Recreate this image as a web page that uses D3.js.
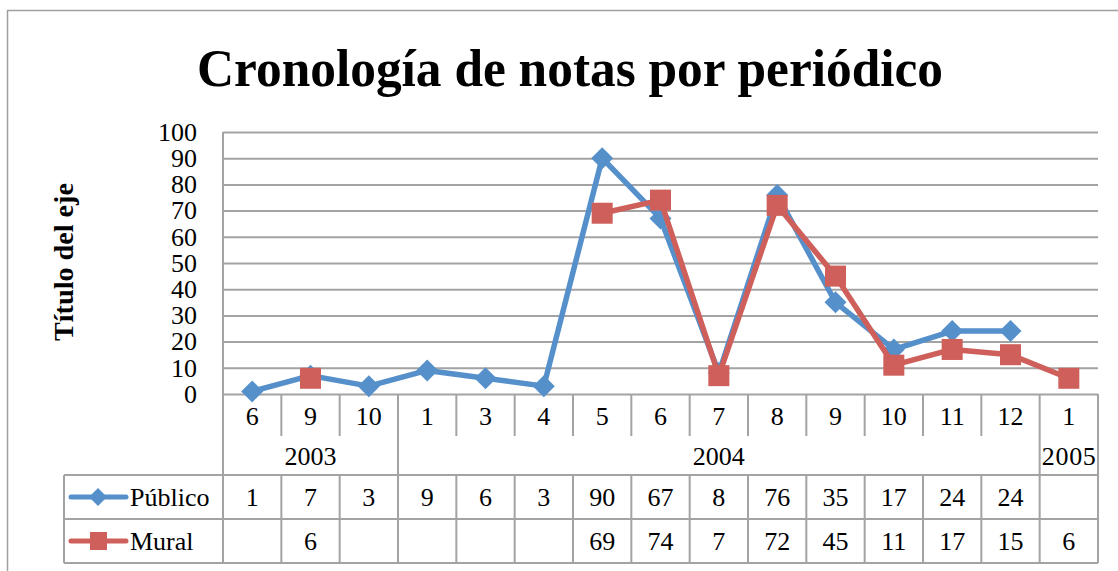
<!DOCTYPE html>
<html>
<head>
<meta charset="utf-8">
<script src="https://cdn.jsdelivr.net/npm/d3@7"></script>
<style>
  body { margin: 0; background: #fff; }
  svg { display: block; }
  text { font-family: "Liberation Serif", "Times New Roman", serif; fill: #000; }
</style>
</head>
<body>
<svg width="1118" height="571"></svg>
<script>
// data
var months = ["6", "9", "10", "1", "3", "4", "5", "6", "7", "8", "9", "10", "11", "12", "1"];
var years = ["2003", "2004", "2005"];
var yearSpans = [3, 11, 1];
var publico = [1, 7, 3, 9, 6, 3, 90, 67, 8, 76, 35, 17, 24, 24, null];
var mural = [null, 6, null, null, null, null, 69, 74, 7, 72, 45, 11, 17, 15, 6];
var yTicks = [0, 10, 20, 30, 40, 50, 60, 70, 80, 90, 100];

var series = [
    { name: "Público", values: publico, color: "#5690cb", marker: "diamond" },
    { name: "Mural", values: mural, color: "#cf5f5a", marker: "square" }
];

var gridColor = "#a3a3a3";
var fs = 26;
var plotL = 223, plotR = 1098, plotT = 132, plotB = 394;
var monthRow = 436, yearRow = 475, row1 = 519, row2 = 563, tableLeft = 64;

var svg = d3.select("svg");

// outer chart border
svg.append("rect")
    .attr("x", 7.5).attr("y", 10.5)
    .attr("width", 1300).attr("height", 700)
    .attr("fill", "none")
    .attr("stroke", "#a0a0a0")
    .attr("stroke-width", 1.5);

svg.append("text")
    .attr("x", 570).attr("y", 86)
    .attr("text-anchor", "middle")
    .attr("font-size", 53)
    .attr("font-weight", "bold")
    .attr("textLength", 746)
    .attr("lengthAdjust", "spacingAndGlyphs")
    .text("Cronología de notas por periódico");

svg.append("text")
    .attr("transform", "translate(73,262) rotate(-90)")
    .attr("text-anchor", "middle")
    .attr("font-size", 27)
    .attr("font-weight", "bold")
    .attr("textLength", 158)
    .attr("lengthAdjust", "spacingAndGlyphs")
    .text("Título del eje");

var x = d3.scaleBand().domain(d3.range(months.length)).range([plotL, plotR]);
var y = d3.scaleLinear().domain([0, 100]).range([plotB, plotT]);

// gridlines
svg.append("g")
    .attr("transform", "translate(" + plotL + ",0)")
    .call(d3.axisLeft(y).tickValues(yTicks).tickSize(-(plotR - plotL)).tickFormat(""))
    .call(function (g) {
        g.select(".domain").remove();
        g.selectAll("line").attr("stroke", gridColor).attr("stroke-width", 2);
    });

// y tick labels
svg.append("g")
    .attr("transform", "translate(" + plotL + ",0)")
    .call(d3.axisLeft(y).tickValues(yTicks).tickSize(0).tickPadding(26))
    .call(function (g) {
        g.select(".domain").remove();
        g.selectAll("text")
            .attr("font-size", fs)
            .attr("font-family", "Liberation Serif")
            .attr("fill", "#000");
    });

// data table / category axis
var table = svg.append("g").attr("stroke", gridColor).attr("stroke-width", 2);
table.append("line").attr("x1", plotL).attr("x2", plotL).attr("y1", plotT).attr("y2", row2);
table.append("line").attr("x1", plotR).attr("x2", plotR).attr("y1", plotB).attr("y2", row2);
table.append("line").attr("x1", tableLeft).attr("x2", tableLeft).attr("y1", yearRow).attr("y2", row2);
[yearRow, row1, row2].forEach(function (yy) {
    table.append("line").attr("x1", tableLeft).attr("x2", plotR).attr("y1", yy).attr("y2", yy);
});

var yearBounds = [];
var acc = 0;
yearSpans.forEach(function (s) { acc += s; yearBounds.push(acc); });

d3.range(1, months.length).forEach(function (i) {
    var xx = x(i);
    var isYear = yearBounds.indexOf(i) >= 0;
    table.append("line")
        .attr("x1", xx).attr("x2", xx)
        .attr("y1", plotB).attr("y2", isYear ? yearRow : monthRow);
    table.append("line")
        .attr("x1", xx).attr("x2", xx)
        .attr("y1", yearRow).attr("y2", row2);
});

svg.append("g").selectAll("text")
    .data(months)
    .enter().append("text")
    .attr("x", function (d, i) { return x(i) + x.bandwidth() / 2; })
    .attr("y", 425)
    .attr("text-anchor", "middle")
    .attr("font-size", fs)
    .text(function (d) { return d; });

var start = 0;
years.forEach(function (yr, k) {
    var x0 = x(start), x1 = x(start + yearSpans[k] - 1) + x.bandwidth();
    svg.append("text")
        .attr("x", (x0 + x1) / 2)
        .attr("y", 465)
        .attr("text-anchor", "middle")
        .attr("font-size", fs)
        .attr("textLength", yearSpans[k] === 1 ? 54 : null)
        .text(yr);
    start += yearSpans[k];
});

var rowMid = [(yearRow + row1) / 2, (row1 + row2) / 2];

function drawMarker(g, type, cx, cy, color) {
    if (type === "diamond") {
        g.append("path")
            .attr("d", "M" + cx + "," + (cy - 11) + "L" + (cx + 11) + "," + cy + "L" + cx + "," + (cy + 11) + "L" + (cx - 11) + "," + cy + "Z")
            .attr("fill", color);
    } else {
        g.append("rect")
            .attr("x", cx - 10.5).attr("y", cy - 10.5)
            .attr("width", 21).attr("height", 21)
            .attr("fill", color);
    }
}

series.forEach(function (s, k) {
    var cy = rowMid[k];
    // legend key
    var lg = svg.append("g");
    lg.append("line")
        .attr("x1", 71).attr("x2", 126).attr("y1", cy).attr("y2", cy)
        .attr("stroke", s.color).attr("stroke-width", 5).attr("stroke-linecap", "round");
    if (s.marker === "diamond") {
        lg.append("path")
            .attr("d", "M98," + (cy - 9) + "L107," + cy + "L98," + (cy + 9) + "L89," + cy + "Z")
            .attr("fill", s.color);
    } else {
        lg.append("rect").attr("x", 90).attr("y", cy - 9).attr("width", 17).attr("height", 18).attr("fill", s.color);
    }
    lg.append("text")
        .attr("x", 130).attr("y", cy + 9)
        .attr("font-size", fs)
        .text(s.name);

    svg.append("g").selectAll("text")
        .data(s.values)
        .enter().append("text")
        .attr("x", function (d, i) { return x(i) + x.bandwidth() / 2; })
        .attr("y", cy + 9)
        .attr("text-anchor", "middle")
        .attr("font-size", fs)
        .text(function (d) { return d == null ? "" : d; });
});

// series lines and markers
var line = d3.line()
    .defined(function (d) { return d != null; })
    .x(function (d, i) { return x(i) + x.bandwidth() / 2; })
    .y(function (d) { return y(d); });

series.forEach(function (s) {
    var g = svg.append("g");
    g.append("path")
        .datum(s.values)
        .attr("d", line)
        .attr("fill", "none")
        .attr("stroke", s.color)
        .attr("stroke-width", 5.5)
        .attr("stroke-linejoin", "round");
    s.values.forEach(function (v, i) {
        if (v == null) return;
        drawMarker(g, s.marker, x(i) + x.bandwidth() / 2, y(v), s.color);
    });
});
</script>
</body>
</html>
